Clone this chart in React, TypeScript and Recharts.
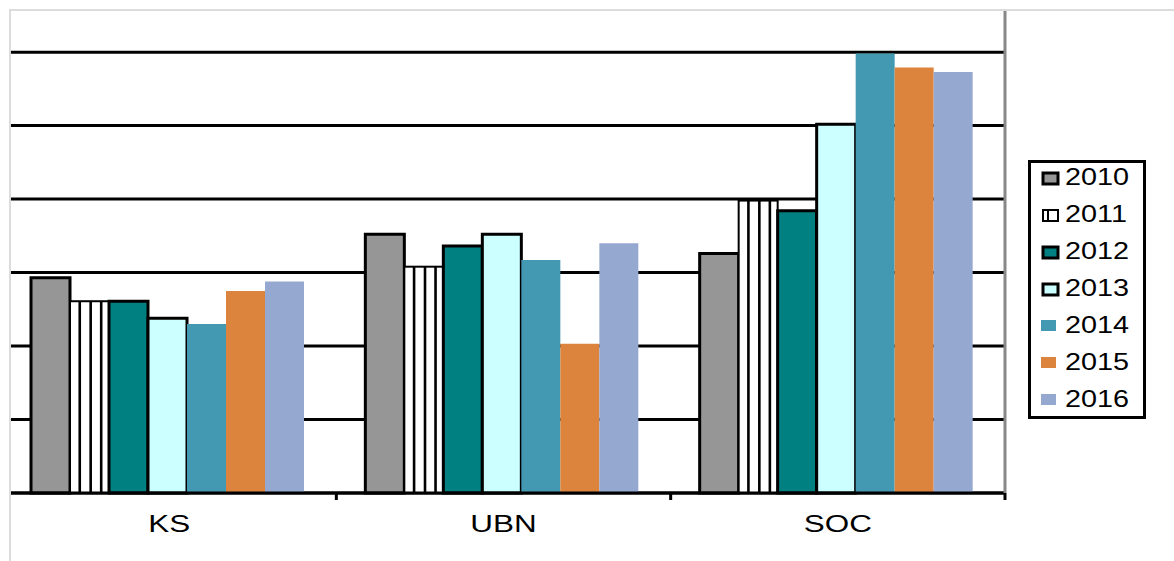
import React from 'react';
import { BarChart, Bar, XAxis, YAxis, CartesianGrid, Legend } from 'recharts';

const categories = ['KS', 'UBN', 'SOC'];
const years = ['2010', '2011', '2012', '2013', '2014', '2015', '2016'];

const v2010 = [2.93, 3.52, 3.26];
const v2011 = [2.61, 3.08, 3.98];
const v2012 = [2.61, 3.36, 3.84];
const v2013 = [2.38, 3.52, 5.02];
const v2014 = [2.3, 3.17, 5.98];
const v2015 = [2.75, 2.03, 5.79];
const v2016 = [2.88, 3.4, 5.73];

const gridTicks = [0, 1, 2, 3, 4, 5, 6];

const seriesValues = [v2010, v2011, v2012, v2013, v2014, v2015, v2016];

const data = categories.map((name, i) => {
  const row: Record<string, string | number> = { name };
  years.forEach((y, k) => {
    row[y] = seriesValues[k][i];
  });
  return row;
});

const styles: Record<string, { fill: string; stroke?: string; sw?: number; striped?: boolean }> = {
  '2010': { fill: '#969696', stroke: '#000', sw: 3 },
  '2011': { fill: '#ffffff', stroke: '#000', sw: 2, striped: true },
  '2012': { fill: '#008080', stroke: '#000', sw: 3 },
  '2013': { fill: '#CCFFFF', stroke: '#000', sw: 3 },
  '2014': { fill: '#4399B1' },
  '2015': { fill: '#DC843E' },
  '2016': { fill: '#95A9D0' },
};

const FONT = '"Liberation Sans", Arial, sans-serif';

const StripedBar = (props: any) => {
  const { x, y, width, height } = props;
  if (!height || height <= 0) return null;
  return (
    <g>
      <rect x={x} y={y} width={width} height={height} fill="#fff" stroke="#000" strokeWidth={2} />
      {[0.25, 0.53, 0.8].map((f) => (
        <line key={f} x1={x + width * f} x2={x + width * f} y1={y} y2={y + height} stroke="#000" strokeWidth={2.6} />
      ))}
    </g>
  );
};

const CategoryTick = (props: any) => {
  const { x, y, payload } = props;
  const half = payload && payload.offset ? payload.offset : 167.2;
  return (
    <g>
      <line x1={x + half} x2={x + half} y1={y} y2={y + 7} stroke="#000" strokeWidth={3} />
      <g transform={`translate(${x},${y + 39})`}>
        <text transform="scale(1.31,1)" textAnchor="middle" fontSize={24} fontFamily={FONT} fill="#000">
          {payload.value}
        </text>
      </g>
    </g>
  );
};

const NoTick = () => <g />;

const LegendBox = () => (
  <svg width={118} height={259} style={{ display: 'block' }}>
    <rect x={1.5} y={1.5} width={115} height={256} fill="#fff" stroke="#000" strokeWidth={3} />
    {years.map((yr, i) => {
      const s = styles[yr];
      const top = 37 * i;
      return (
        <g key={yr}>
          {s.stroke ? (
            <g>
              <rect x={15} y={top + 13} width={15} height={11} fill={s.fill} stroke="#000" strokeWidth={s.sw === 3 ? 3 : 2} />
              {s.striped && <line x1={20} x2={20} y1={top + 13} y2={top + 24} stroke="#000" strokeWidth={2} />}
            </g>
          ) : (
            <rect x={13} y={top + 12} width={15} height={11} fill={s.fill} />
          )}
          <g transform={`translate(37,${top + 25})`}>
            <text transform="scale(1.2,1)" fontSize={24} fontFamily={FONT} fill="#000">
              {yr}
            </text>
          </g>
        </g>
      );
    })}
  </svg>
);

const App: React.FC = () => {
  return (
    <div style={{ position: 'absolute', left: 0, top: 0, width: 1174, height: 561, background: '#fff', overflow: 'hidden' }}>
      <BarChart
        width={1174}
        height={561}
        data={data}
        margin={{ top: 11, right: 168, bottom: 28, left: 2 }}
        barCategoryGap={29}
        barGap={0}
      >
        <CartesianGrid vertical={false} horizontalValues={gridTicks} stroke="#000" strokeWidth={3} />
        <XAxis
          dataKey="name"
          height={40}
          tickLine={false}
          tickSize={0}
          tickMargin={0}
          axisLine={{ stroke: '#000', strokeWidth: 3 }}
          tick={<CategoryTick />}
          interval={0}
        />
        <YAxis
          orientation="right"
          width={1}
          domain={[0, 6.56]}
          ticks={gridTicks}
          tick={<NoTick />}
          tickLine={false}
          axisLine={{ stroke: '#888', strokeWidth: 3 }}
        />
        <Legend
          layout="vertical"
          align="center"
          verticalAlign="middle"
          wrapperStyle={{ left: 1028, top: 160, width: 118, height: 259 }}
          content={() => <LegendBox />}
        />
        {years.map((yr) => {
          const s = styles[yr];
          return (
            <Bar
              key={yr}
              dataKey={yr}
              fill={s.fill}
              stroke={s.stroke}
              strokeWidth={s.sw || 0}
              shape={s.striped ? <StripedBar /> : undefined}
              isAnimationActive={false}
            />
          );
        })}
      </BarChart>
      {/* white strip + light frame over the left edge */}
      <div style={{ position: 'absolute', left: 0, top: 0, width: 9, height: 561, background: '#fff' }} />
      <div
        style={{
          position: 'absolute',
          left: 9,
          top: 9,
          width: 1174,
          height: 561,
          borderLeft: '2px solid #dcdcdc',
          borderTop: '2px solid #dcdcdc',
          pointerEvents: 'none',
        }}
      />
    </div>
  );
};

export default App;
